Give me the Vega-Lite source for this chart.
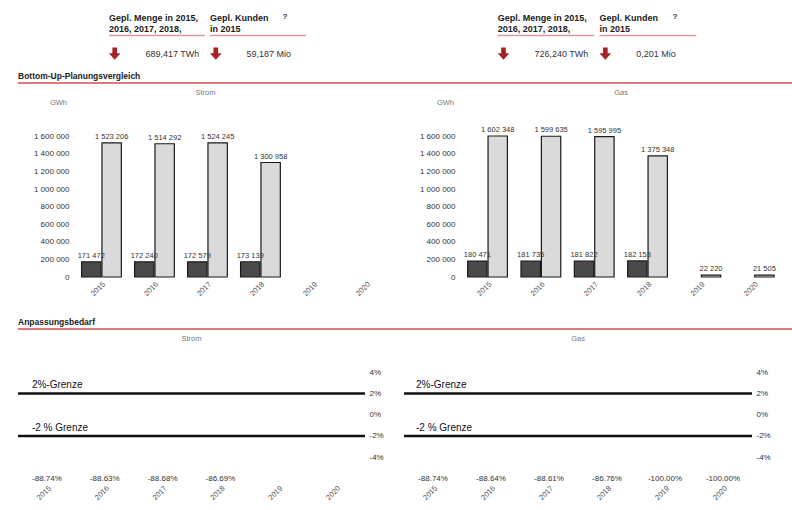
{
  "$schema": "https://vega.github.io/schema/vega-lite/v6.json",
  "background": "white",
  "padding": {"left": 16, "top": 10, "right": 0, "bottom": 0},
  "config": {
    "font": "Liberation Sans",
    "view": {"stroke": null},
    "locale": {"number": {"decimal": ".", "thousands": " ", "grouping": [3], "currency": ["", ""], "minus": "-"}},
    "title": {"font": "Liberation Sans", "fontSize": 7.5, "fontWeight": "normal", "color": "#777777"},
    "axis": {"labelFont": "Liberation Sans", "titleFont": "Liberation Sans", "grid": false, "ticks": false, "domain": false}
  },
  "datasets": {
    "kennzahlen": [
      {"Sparte": "Strom", "Kennzahl": "Menge", "Zeile": "Bezeichnung", "Text": "Gepl. Menge in 2015,\n2016, 2017, 2018,"},
      {"Sparte": "Strom", "Kennzahl": "Kunden", "Zeile": "Bezeichnung", "Text": "Gepl. Kunden\nin 2015"},
      {"Sparte": "Strom", "Kennzahl": "Menge", "Zeile": "Wert", "Text": "689,417 TWh"},
      {"Sparte": "Strom", "Kennzahl": "Kunden", "Zeile": "Wert", "Text": "59,187 Mio"},
      {"Sparte": "Gas", "Kennzahl": "Menge", "Zeile": "Bezeichnung", "Text": "Gepl. Menge in 2015,\n2016, 2017, 2018,"},
      {"Sparte": "Gas", "Kennzahl": "Kunden", "Zeile": "Bezeichnung", "Text": "Gepl. Kunden\nin 2015"},
      {"Sparte": "Gas", "Kennzahl": "Menge", "Zeile": "Wert", "Text": "726,240 TWh"},
      {"Sparte": "Gas", "Kennzahl": "Kunden", "Zeile": "Wert", "Text": "0,201 Mio"}
    ],
    "balken": [
      {"Sparte": "Strom", "Jahr": "2015", "Reihe": "Bottom-Up", "GWh": 171472},
      {"Sparte": "Strom", "Jahr": "2015", "Reihe": "Planung", "GWh": 1523206},
      {"Sparte": "Strom", "Jahr": "2016", "Reihe": "Bottom-Up", "GWh": 172240},
      {"Sparte": "Strom", "Jahr": "2016", "Reihe": "Planung", "GWh": 1514292},
      {"Sparte": "Strom", "Jahr": "2017", "Reihe": "Bottom-Up", "GWh": 172579},
      {"Sparte": "Strom", "Jahr": "2017", "Reihe": "Planung", "GWh": 1524245},
      {"Sparte": "Strom", "Jahr": "2018", "Reihe": "Bottom-Up", "GWh": 173139},
      {"Sparte": "Strom", "Jahr": "2018", "Reihe": "Planung", "GWh": 1300958},
      {"Sparte": "Gas", "Jahr": "2015", "Reihe": "Bottom-Up", "GWh": 180471},
      {"Sparte": "Gas", "Jahr": "2015", "Reihe": "Planung", "GWh": 1602348},
      {"Sparte": "Gas", "Jahr": "2016", "Reihe": "Bottom-Up", "GWh": 181735},
      {"Sparte": "Gas", "Jahr": "2016", "Reihe": "Planung", "GWh": 1599635},
      {"Sparte": "Gas", "Jahr": "2017", "Reihe": "Bottom-Up", "GWh": 181822},
      {"Sparte": "Gas", "Jahr": "2017", "Reihe": "Planung", "GWh": 1595995},
      {"Sparte": "Gas", "Jahr": "2018", "Reihe": "Bottom-Up", "GWh": 182153},
      {"Sparte": "Gas", "Jahr": "2018", "Reihe": "Planung", "GWh": 1375348},
      {"Sparte": "Gas", "Jahr": "2019", "Reihe": "Planung", "GWh": 22220},
      {"Sparte": "Gas", "Jahr": "2020", "Reihe": "Planung", "GWh": 21505}
    ],
    "abweichung": [
      {"Sparte": "Strom", "Jahr": "2015", "Abweichung": -0.8874},
      {"Sparte": "Strom", "Jahr": "2016", "Abweichung": -0.8863},
      {"Sparte": "Strom", "Jahr": "2017", "Abweichung": -0.8868},
      {"Sparte": "Strom", "Jahr": "2018", "Abweichung": -0.8669},
      {"Sparte": "Gas", "Jahr": "2015", "Abweichung": -0.8874},
      {"Sparte": "Gas", "Jahr": "2016", "Abweichung": -0.8864},
      {"Sparte": "Gas", "Jahr": "2017", "Abweichung": -0.8861},
      {"Sparte": "Gas", "Jahr": "2018", "Abweichung": -0.8676},
      {"Sparte": "Gas", "Jahr": "2019", "Abweichung": -1.0},
      {"Sparte": "Gas", "Jahr": "2020", "Abweichung": -1.0}
    ],
    "grenzen": [
      {"Grenze": 0.02, "Bezeichnung": "2%-Grenze"},
      {"Grenze": -0.02, "Bezeichnung": "-2 % Grenze"}
    ],
    "abschnitt": [{"Linie": 1}]
  },
  "spacing": 9,
  "vconcat": [
    {
      "spacing": 5,
      "hconcat": [
        {
          "width": 379,
          "height": 52,
          "data": {"name": "kennzahlen"},
          "transform": [{"filter": "datum.Sparte === 'Strom'"}],
          "encoding": {
            "x": {"field": "Kennzahl", "type": "nominal", "axis": null,
                  "scale": {"type": "band", "domain": ["Menge", "Kunden"], "paddingInner": 0.05, "paddingOuter": 0.9}},
            "y": {"field": "Zeile", "type": "nominal", "axis": null,
                  "scale": {"type": "band", "domain": ["Bezeichnung", "Wert"], "paddingInner": 0, "paddingOuter": 0}}
          },
          "layer": [
            {
              "transform": [{"filter": "datum.Zeile === 'Bezeichnung'"}],
              "mark": {"type": "text", "align": "left", "baseline": "middle", "fontSize": 9, "fontWeight": "bold", "lineBreak": "\n", "lineHeight": 11, "color": "#1a1a1a"},
              "encoding": {
                "x": {"field": "Kennzahl", "type": "nominal", "bandPosition": 0},
                "y": {"field": "Zeile", "type": "nominal", "bandPosition": 0.31},
                "text": {"field": "Text"}
              }
            },
            {
              "transform": [{"filter": "datum.Zeile === 'Bezeichnung'"}],
              "mark": {"type": "rule", "color": "#dc9a9a", "strokeWidth": 1.3},
              "encoding": {
                "x": {"field": "Kennzahl", "type": "nominal", "bandPosition": 0},
                "x2": {"field": "Kennzahl", "bandPosition": 1},
                "y": {"field": "Zeile", "type": "nominal", "bandPosition": 0.98}
              }
            },
            {
              "transform": [{"filter": "datum.Zeile === 'Bezeichnung' && datum.Kennzahl === 'Kunden'"}],
              "mark": {"type": "text", "text": "?", "fontSize": 8, "fontWeight": "bold", "color": "#333333", "baseline": "middle"},
              "encoding": {
                "x": {"field": "Kennzahl", "type": "nominal", "bandPosition": 0.78},
                "y": {"field": "Zeile", "type": "nominal", "bandPosition": 0.27}
              }
            },
            {
              "transform": [{"filter": "datum.Zeile === 'Wert'"}],
              "mark": {"type": "point", "filled": true, "color": "#a52222", "opacity": 1, "size": 150,
                       "shape": "M-0.38,-1 L0.38,-1 L0.38,-0.05 L0.95,-0.05 L0,1 L-0.95,-0.05 L-0.38,-0.05 Z"},
              "encoding": {
                "x": {"field": "Kennzahl", "type": "nominal", "bandPosition": 0.06},
                "y": {"field": "Zeile", "type": "nominal", "bandPosition": 0.68}
              }
            },
            {
              "transform": [{"filter": "datum.Zeile === 'Wert'"}],
              "mark": {"type": "text", "align": "left", "baseline": "middle", "fontSize": 9, "color": "#333333"},
              "encoding": {
                "x": {"field": "Kennzahl", "type": "nominal", "bandPosition": 0.38},
                "y": {"field": "Zeile", "type": "nominal", "bandPosition": 0.68},
                "text": {"field": "Text"}
              }
            }
          ]
        },
        {
          "width": 390,
          "height": 52,
          "data": {"name": "kennzahlen"},
          "transform": [{"filter": "datum.Sparte === 'Gas'"}],
          "encoding": {
            "x": {"field": "Kennzahl", "type": "nominal", "axis": null,
                  "scale": {"type": "band", "domain": ["Menge", "Kunden"], "paddingInner": 0.05, "paddingOuter": 0.94}},
            "y": {"field": "Zeile", "type": "nominal", "axis": null,
                  "scale": {"type": "band", "domain": ["Bezeichnung", "Wert"], "paddingInner": 0, "paddingOuter": 0}}
          },
          "layer": [
            {
              "transform": [{"filter": "datum.Zeile === 'Bezeichnung'"}],
              "mark": {"type": "text", "align": "left", "baseline": "middle", "fontSize": 9, "fontWeight": "bold", "lineBreak": "\n", "lineHeight": 11, "color": "#1a1a1a"},
              "encoding": {
                "x": {"field": "Kennzahl", "type": "nominal", "bandPosition": 0},
                "y": {"field": "Zeile", "type": "nominal", "bandPosition": 0.31},
                "text": {"field": "Text"}
              }
            },
            {
              "transform": [{"filter": "datum.Zeile === 'Bezeichnung'"}],
              "mark": {"type": "rule", "color": "#dc9a9a", "strokeWidth": 1.3},
              "encoding": {
                "x": {"field": "Kennzahl", "type": "nominal", "bandPosition": 0},
                "x2": {"field": "Kennzahl", "bandPosition": 1},
                "y": {"field": "Zeile", "type": "nominal", "bandPosition": 0.98}
              }
            },
            {
              "transform": [{"filter": "datum.Zeile === 'Bezeichnung' && datum.Kennzahl === 'Kunden'"}],
              "mark": {"type": "text", "text": "?", "fontSize": 8, "fontWeight": "bold", "color": "#333333", "baseline": "middle"},
              "encoding": {
                "x": {"field": "Kennzahl", "type": "nominal", "bandPosition": 0.78},
                "y": {"field": "Zeile", "type": "nominal", "bandPosition": 0.27}
              }
            },
            {
              "transform": [{"filter": "datum.Zeile === 'Wert'"}],
              "mark": {"type": "point", "filled": true, "color": "#a52222", "opacity": 1, "size": 150,
                       "shape": "M-0.38,-1 L0.38,-1 L0.38,-0.05 L0.95,-0.05 L0,1 L-0.95,-0.05 L-0.38,-0.05 Z"},
              "encoding": {
                "x": {"field": "Kennzahl", "type": "nominal", "bandPosition": 0.06},
                "y": {"field": "Zeile", "type": "nominal", "bandPosition": 0.68}
              }
            },
            {
              "transform": [{"filter": "datum.Zeile === 'Wert'"}],
              "mark": {"type": "text", "align": "left", "baseline": "middle", "fontSize": 9, "color": "#333333"},
              "encoding": {
                "x": {"field": "Kennzahl", "type": "nominal", "bandPosition": 0.38},
                "y": {"field": "Zeile", "type": "nominal", "bandPosition": 0.68},
                "text": {"field": "Text"}
              }
            }
          ]
        }
      ]
    },
    {
      "spacing": 19,
      "vconcat": [
        {
          "spacing": 4,
          "vconcat": [
            {
              "width": 774,
              "height": 2,
              "title": {"text": "Bottom-Up-Planungsvergleich", "anchor": "start", "fontSize": 8.5, "fontWeight": "bold", "color": "#222222", "offset": 2, "frame": "group"},
              "data": {"name": "abschnitt"},
              "mark": {"type": "rect", "color": "#e07a7a"},
              "encoding": {}
            },
            {
              "spacing": 26,
              "hconcat": [
                {
                  "title": {"text": "Strom", "offset": 2},
                  "width": 375,
                  "height": 176,
                  "data": {"name": "balken"},
                  "transform": [{"filter": "datum.Sparte === 'Strom'"}],
                  "encoding": {
                    "x": {"field": "Jahr", "type": "nominal",
                          "scale": {"domain": ["2015", "2016", "2017", "2018", "2019", "2020"], "paddingInner": 0.25, "paddingOuter": 0.6627, "align": 0.905},
                          "axis": {"title": null, "labelAngle": -45, "labelFontSize": 7.5, "labelColor": "#555555", "labelPadding": 3}},
                    "xOffset": {"field": "Reihe", "type": "nominal", "scale": {"domain": ["Bottom-Up", "Planung"], "paddingInner": 0.05}},
                    "y": {"field": "GWh", "type": "quantitative",
                          "scale": {"domain": [0, 2000000], "nice": false},
                          "axis": {"values": [0, 200000, 400000, 600000, 800000, 1000000, 1200000, 1400000, 1600000], "format": ",d",
                                   "offset": -57,
                                   "labelFontSize": 8, "labelColor": "#333333", "labelPadding": 6,
                                   "title": "GWh", "titleAngle": 0, "titleX": -17, "titleY": 1, "titleAlign": "center", "titleBaseline": "middle",
                                   "titleFontSize": 7.5, "titleFontWeight": "normal", "titleColor": "#777777"}}
                  },
                  "layer": [
                    {
                      "mark": {"type": "bar", "stroke": "#1a1a1a", "strokeWidth": 1.2},
                      "encoding": {"color": {"field": "Reihe", "type": "nominal", "legend": null,
                                             "scale": {"domain": ["Bottom-Up", "Planung"], "range": ["#4a4a4a", "#dadada"]}}}
                    },
                    {
                      "mark": {"type": "text", "baseline": "bottom", "dy": -2, "fontSize": 7.5, "color": "#333333"},
                      "encoding": {"text": {"field": "GWh", "type": "quantitative", "format": ",d"}}
                    }
                  ]
                },
                {
                  "title": {"text": "Gas", "offset": 2},
                  "width": 320,
                  "height": 176,
                  "data": {"name": "balken"},
                  "transform": [{"filter": "datum.Sparte === 'Gas'"}],
                  "encoding": {
                    "x": {"field": "Jahr", "type": "nominal",
                          "scale": {"domain": ["2015", "2016", "2017", "2018", "2019", "2020"], "paddingInner": 0.25, "paddingOuter": 0.125},
                          "axis": {"title": null, "labelAngle": -45, "labelFontSize": 7.5, "labelColor": "#555555", "labelPadding": 3}},
                    "xOffset": {"field": "Reihe", "type": "nominal", "scale": {"domain": ["Bottom-Up", "Planung"], "paddingInner": 0.05}},
                    "y": {"field": "GWh", "type": "quantitative",
                          "scale": {"domain": [0, 2000000], "nice": false},
                          "axis": {"values": [0, 200000, 400000, 600000, 800000, 1000000, 1200000, 1400000, 1600000], "format": ",d",
                                   "labelFontSize": 8, "labelColor": "#333333", "labelPadding": 6,
                                   "title": "GWh", "titleAngle": 0, "titleX": -16, "titleY": 1, "titleAlign": "center", "titleBaseline": "middle",
                                   "titleFontSize": 7.5, "titleFontWeight": "normal", "titleColor": "#777777"}}
                  },
                  "layer": [
                    {
                      "mark": {"type": "bar", "stroke": "#1a1a1a", "strokeWidth": 1.2},
                      "encoding": {"color": {"field": "Reihe", "type": "nominal", "legend": null,
                                             "scale": {"domain": ["Bottom-Up", "Planung"], "range": ["#4a4a4a", "#dadada"]}}}
                    },
                    {
                      "mark": {"type": "text", "baseline": "bottom", "dy": -2, "fontSize": 7.5, "color": "#333333"},
                      "encoding": {"text": {"field": "GWh", "type": "quantitative", "format": ",d"}}
                    }
                  ]
                }
              ]
            }
          ]
        },
        {
          "spacing": 4,
          "vconcat": [
            {
              "width": 774,
              "height": 2,
              "title": {"text": "Anpassungsbedarf", "anchor": "start", "fontSize": 8.5, "fontWeight": "bold", "color": "#222222", "offset": 2, "frame": "group"},
              "data": {"name": "abschnitt"},
              "mark": {"type": "rect", "color": "#e07a7a"},
              "encoding": {}
            },
            {
              "spacing": 18,
              "hconcat": [
                {
                  "title": {"text": "Strom", "offset": 9},
                  "width": 347,
                  "height": 130,
                  "encoding": {
                    "x": {"field": "Jahr", "type": "ordinal",
                          "scale": {"type": "point", "domain": ["2015", "2016", "2017", "2018", "2019", "2020"], "padding": 0.5},
                          "axis": {"title": null, "labelAngle": -45, "labelFontSize": 7.5, "labelColor": "#555555", "labelPadding": 3}},
                    "y": {"field": "Grenze", "type": "quantitative",
                          "scale": {"domain": [-0.0625, 0.06], "nice": false, "clamp": true},
                          "axis": {"orient": "right", "title": null, "values": [-0.04, -0.02, 0, 0.02, 0.04], "format": ".0%",
                                   "labelFontSize": 8, "labelColor": "#333333", "labelPadding": 4}}
                  },
                  "layer": [
                    {
                      "data": {"name": "grenzen"},
                      "mark": {"type": "rule", "color": "#111111", "strokeWidth": 2.5},
                      "encoding": {"x": null}
                    },
                    {
                      "data": {"name": "grenzen"},
                      "mark": {"type": "text", "align": "left", "baseline": "bottom", "dx": -15, "dy": -3, "fontSize": 10, "color": "#111111"},
                      "encoding": {"x": {"datum": "2015", "type": "ordinal"}, "text": {"field": "Bezeichnung"}}
                    },
                    {
                      "data": {"name": "abweichung"},
                      "transform": [{"filter": "datum.Sparte === 'Strom'"}],
                      "mark": {"type": "text", "baseline": "middle", "dy": -2, "fontSize": 8, "color": "#333333"},
                      "encoding": {
                        "y": {"field": "Abweichung", "type": "quantitative"},
                        "text": {"field": "Abweichung", "type": "quantitative", "format": ".2%"}
                      }
                    }
                  ]
                },
                {
                  "title": {"text": "Gas", "offset": 9},
                  "width": 348,
                  "height": 130,
                  "encoding": {
                    "x": {"field": "Jahr", "type": "ordinal",
                          "scale": {"type": "point", "domain": ["2015", "2016", "2017", "2018", "2019", "2020"], "padding": 0.5},
                          "axis": {"title": null, "labelAngle": -45, "labelFontSize": 7.5, "labelColor": "#555555", "labelPadding": 3}},
                    "y": {"field": "Grenze", "type": "quantitative",
                          "scale": {"domain": [-0.0625, 0.06], "nice": false, "clamp": true},
                          "axis": {"orient": "right", "title": null, "values": [-0.04, -0.02, 0, 0.02, 0.04], "format": ".0%",
                                   "labelFontSize": 8, "labelColor": "#333333", "labelPadding": 4}}
                  },
                  "layer": [
                    {
                      "data": {"name": "grenzen"},
                      "mark": {"type": "rule", "color": "#111111", "strokeWidth": 2.5},
                      "encoding": {"x": null}
                    },
                    {
                      "data": {"name": "grenzen"},
                      "mark": {"type": "text", "align": "left", "baseline": "bottom", "dx": -17, "dy": -3, "fontSize": 10, "color": "#111111"},
                      "encoding": {"x": {"datum": "2015", "type": "ordinal"}, "text": {"field": "Bezeichnung"}}
                    },
                    {
                      "data": {"name": "abweichung"},
                      "transform": [{"filter": "datum.Sparte === 'Gas'"}],
                      "mark": {"type": "text", "baseline": "middle", "dy": -2, "fontSize": 8, "color": "#333333"},
                      "encoding": {
                        "y": {"field": "Abweichung", "type": "quantitative"},
                        "text": {"field": "Abweichung", "type": "quantitative", "format": ".2%"}
                      }
                    }
                  ]
                }
              ]
            }
          ]
        }
      ]
    }
  ]
}
